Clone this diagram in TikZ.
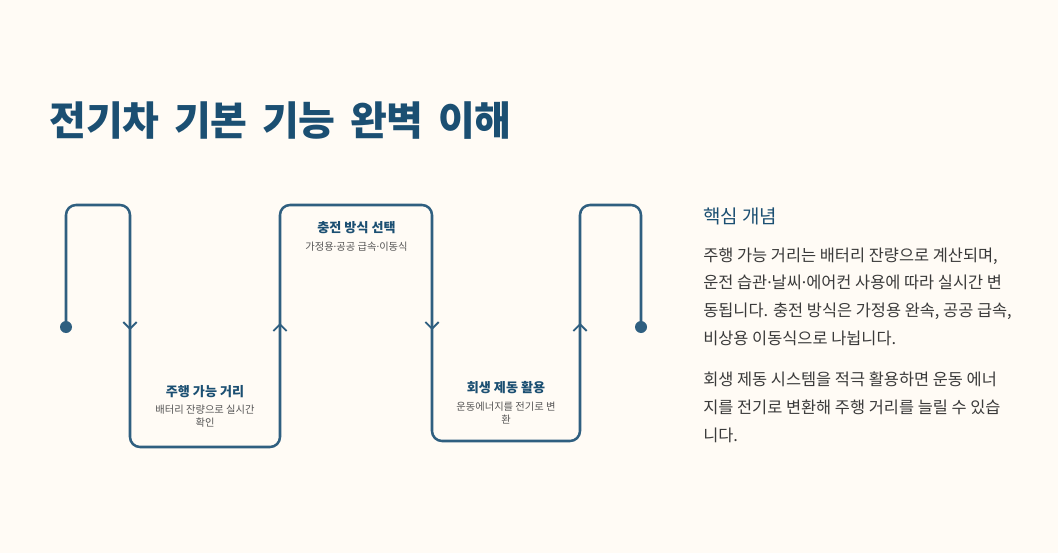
\documentclass[tikz,border=0pt]{standalone}
\usepackage{fontspec}
\setmainfont{Noto Sans CJK KR}
\newfontfamily\dotfont{Noto Sans}
\newcommand{\mdot}{{\dotfont ·}}
\usetikzlibrary{arrows.meta,calc}
\definecolor{bgcream}{HTML}{FFFBF5}
\definecolor{pathblue}{HTML}{2F5F80}
\definecolor{titleblue}{HTML}{1B4F72}
\definecolor{bodygray}{HTML}{3A3A3A}
\definecolor{subgray}{HTML}{555555}

\begin{document}
\begin{tikzpicture}[x=0.75pt, y=-0.75pt,
    flow/.style={draw=pathblue, line width=1.9pt, rounded corners=7.5pt},
    tipmark/.style={draw=pathblue, line width=1.4pt, -{Straight Barb[length=5pt, width=10pt]}},
    dot/.style={circle, fill=pathblue, inner sep=0pt, minimum size=9pt},
    steptitle/.style={anchor=base, inner sep=0pt, font=\bfseries\fontsize{9.8}{12}\selectfont, text=titleblue, align=center},
    stepnote/.style={anchor=base, inner sep=0pt, font=\fontsize{7.7}{9.3}\selectfont, text=subgray, align=center},
    body/.style={anchor=base west, inner sep=0pt, font=\fontsize{12.3}{20.85}\selectfont, text=bodygray, align=left}]

    % 배경
    \fill[bgcream] (0,0) rectangle (1058,553);
    \useasboundingbox (0,0) rectangle (1058,553);

    % 제목
    \node[anchor=base west, inner sep=0pt, font={\bfseries\fontsize{30}{34}\selectfont\spaceskip=0.36em\relax}, text=titleblue] (title) at (49,135) {전기차 기본 기능 완벽 이해};

    % 경로 좌표
    \node[dot] (start) at (66,327) {};
    \node[dot] (finish) at (641,327) {};
    \coordinate (c1) at (66,205);
    \coordinate (c2) at (130,205);
    \coordinate (c3) at (130,447);
    \coordinate (c4) at (280,447);
    \coordinate (c5) at (280,205);
    \coordinate (c6) at (432,205);
    \coordinate (c7) at (432,441);
    \coordinate (c8) at (580,441);
    \coordinate (c9) at (580,205);
    \coordinate (c10) at (641,205);

    % 경로
    \draw[flow] (start.center) -- (c1) -- (c2) -- (c3) -- (c4) -- (c5) -- (c6) -- (c7) -- (c8) -- (c9) -- (c10) -- (finish.center);

    % 방향 화살표
    \coordinate (a1) at (130,330);
    \coordinate (a2) at (280,323);
    \coordinate (a3) at (432,330);
    \coordinate (a4) at (580,323);
    \draw[tipmark] ($(a1)+(0,-10)$) -- (a1);
    \draw[tipmark] ($(a2)+(0,10)$) -- (a2);
    \draw[tipmark] ($(a3)+(0,-10)$) -- (a3);
    \draw[tipmark] ($(a4)+(0,10)$) -- (a4);

    % 단계 설명 (여러 줄 노드는 마지막 줄 기준선)
    \node[steptitle] (range) at (205,396.5) {주행 가능 거리};
    \node[stepnote] (rangenote) at (205,426) {배터리 잔량으로 실시간\\확인};
    \node[steptitle] (charge) at (356.5,232) {충전 방식 선택};
    \node[stepnote] (chargenote) at (356.5,250.5) {가정용\mdot 공공 급속\mdot 이동식};
    \node[steptitle] (regen) at (506,392) {회생 제동 활용};
    \node[stepnote] (regennote) at (506,423) {운동에너지를 전기로 변\\환};

    % 핵심 개념
    \node[anchor=base west, inner sep=0pt, font=\fontsize{14.2}{17}\selectfont, text=titleblue] (concept) at (703,223.7) {핵심 개념};
    \node[body] (para1) at (703,344.5) {주행 가능 거리는 배터리 잔량으로 계산되며,\\운전 습관\mdot 날씨\mdot 에어컨 사용에 따라 실시간 변\\동됩니다. 충전 방식은 가정용 완속, 공공 급속,\\비상용 이동식으로 나뉩니다.};
    \node[body] (para2) at (703,441) {회생 제동 시스템을 적극 활용하면 운동 에너\\지를 전기로 변환해 주행 거리를 늘릴 수 있습\\니다.};

\end{tikzpicture}
\end{document}
